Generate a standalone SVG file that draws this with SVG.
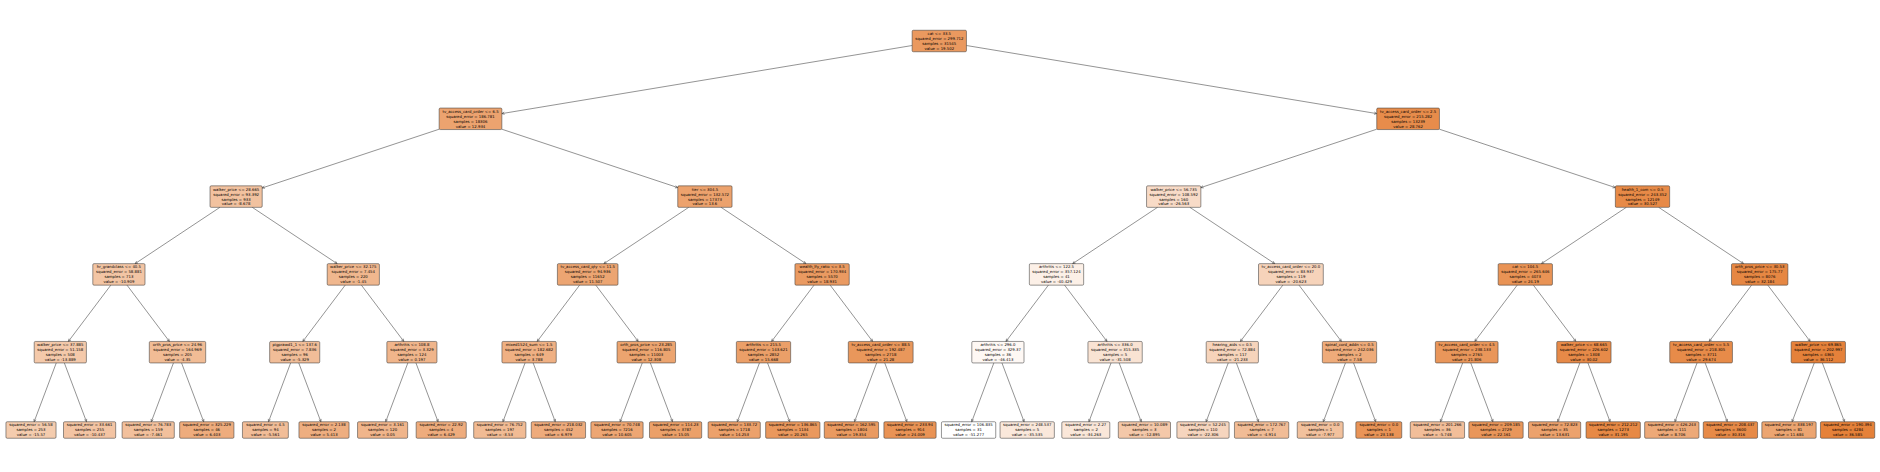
<svg xmlns="http://www.w3.org/2000/svg" width="1880" height="472" viewBox="0 0 1880 472">
<style>
.box{fill:#e58139;stroke:#3c3c3c;stroke-width:0.55}
.t{font-family:"DejaVu Sans","Liberation Sans",sans-serif;font-size:3.85px;fill:#000;text-anchor:middle}
#edges line{stroke:#3a3a3a;stroke-width:0.55;marker-end:url(#ah)}
</style>
<defs>
<marker id="ah" markerUnits="userSpaceOnUse" orient="auto" markerWidth="6" markerHeight="6" viewBox="-3 -3 6 6" refX="0" refY="0" overflow="visible"><path d="M-2.6,-1.2 L0,0 L-2.6,1.2" fill="none" stroke="#333" stroke-width="0.5"/></marker>
</defs>
<rect width="1880" height="472" fill="#fff"/>
<g id="edges">
<line x1="912.15" y1="45.51" x2="501.85" y2="113.6"/>
<line x1="966.45" y1="45.51" x2="1376.75" y2="113.6"/>
<line x1="439.15" y1="129.21" x2="262.2" y2="187.94"/>
<line x1="501.85" y1="129.21" x2="677.75" y2="187.59"/>
<line x1="1376.75" y1="129.21" x2="1200.85" y2="187.59"/>
<line x1="1439.45" y1="129.21" x2="1615.35" y2="187.59"/>
<line x1="219.91" y1="207.35" x2="135.09" y2="263.65"/>
<line x1="252.29" y1="207.35" x2="337.11" y2="263.65"/>
<line x1="688.71" y1="207.35" x2="603.89" y2="263.65"/>
<line x1="721.09" y1="207.35" x2="805.91" y2="263.65"/>
<line x1="1157.51" y1="207.35" x2="1072.69" y2="263.65"/>
<line x1="1189.89" y1="207.35" x2="1274.71" y2="263.65"/>
<line x1="1626.31" y1="207.35" x2="1541.49" y2="263.65"/>
<line x1="1658.69" y1="207.35" x2="1743.51" y2="263.65"/>
<line x1="110.8" y1="285.15" x2="68.4" y2="341.45"/>
<line x1="127" y1="285.15" x2="169.4" y2="341.45"/>
<line x1="345.2" y1="285.15" x2="302.8" y2="341.45"/>
<line x1="361.4" y1="285.15" x2="403.8" y2="341.45"/>
<line x1="579.6" y1="285.15" x2="537.2" y2="341.45"/>
<line x1="595.8" y1="285.15" x2="638.2" y2="341.45"/>
<line x1="814" y1="285.15" x2="771.6" y2="341.45"/>
<line x1="830.2" y1="285.15" x2="872.6" y2="341.45"/>
<line x1="1048.4" y1="285.15" x2="1006" y2="341.45"/>
<line x1="1064.6" y1="285.15" x2="1107" y2="341.45"/>
<line x1="1282.8" y1="285.15" x2="1240.4" y2="341.45"/>
<line x1="1299" y1="285.15" x2="1341.4" y2="341.45"/>
<line x1="1517.2" y1="285.15" x2="1474.8" y2="341.45"/>
<line x1="1533.4" y1="285.15" x2="1575.8" y2="341.45"/>
<line x1="1751.6" y1="285.15" x2="1709.2" y2="341.45"/>
<line x1="1767.8" y1="285.15" x2="1810.2" y2="341.45"/>
<line x1="56.25" y1="362.95" x2="34.11" y2="421.75"/>
<line x1="64.35" y1="362.95" x2="86.49" y2="421.75"/>
<line x1="173.45" y1="362.95" x2="151.31" y2="421.75"/>
<line x1="181.55" y1="362.95" x2="203.69" y2="421.75"/>
<line x1="290.65" y1="362.95" x2="268.51" y2="421.75"/>
<line x1="298.75" y1="362.95" x2="320.89" y2="421.75"/>
<line x1="407.85" y1="362.95" x2="385.71" y2="421.75"/>
<line x1="415.95" y1="362.95" x2="438.09" y2="421.75"/>
<line x1="525.05" y1="362.95" x2="502.91" y2="421.75"/>
<line x1="533.15" y1="362.95" x2="555.29" y2="421.75"/>
<line x1="642.25" y1="362.95" x2="620.11" y2="421.75"/>
<line x1="650.35" y1="362.95" x2="672.49" y2="421.75"/>
<line x1="759.45" y1="362.95" x2="737.31" y2="421.75"/>
<line x1="767.55" y1="362.95" x2="789.69" y2="421.75"/>
<line x1="876.65" y1="362.95" x2="854.51" y2="421.75"/>
<line x1="884.75" y1="362.95" x2="906.89" y2="421.75"/>
<line x1="993.85" y1="362.95" x2="971.71" y2="421.75"/>
<line x1="1001.95" y1="362.95" x2="1024.09" y2="421.75"/>
<line x1="1111.05" y1="362.95" x2="1088.91" y2="421.75"/>
<line x1="1119.15" y1="362.95" x2="1141.29" y2="421.75"/>
<line x1="1228.25" y1="362.95" x2="1206.11" y2="421.75"/>
<line x1="1236.35" y1="362.95" x2="1258.49" y2="421.75"/>
<line x1="1345.45" y1="362.95" x2="1323.31" y2="421.75"/>
<line x1="1353.55" y1="362.95" x2="1375.69" y2="421.75"/>
<line x1="1462.65" y1="362.95" x2="1440.51" y2="421.75"/>
<line x1="1470.75" y1="362.95" x2="1492.89" y2="421.75"/>
<line x1="1579.85" y1="362.95" x2="1557.71" y2="421.75"/>
<line x1="1587.95" y1="362.95" x2="1610.09" y2="421.75"/>
<line x1="1697.05" y1="362.95" x2="1674.91" y2="421.75"/>
<line x1="1705.15" y1="362.95" x2="1727.29" y2="421.75"/>
<line x1="1814.25" y1="362.95" x2="1792.11" y2="421.75"/>
<line x1="1822.35" y1="362.95" x2="1844.49" y2="421.75"/>
</g>
<g id="nodes">
<g id="n0" transform="translate(939.3,41)"><rect class="box" x="-27.15" y="-10.75" width="54.3" height="21.5" rx="1.2" fill-opacity="0.806"/><text class="t"><tspan x="0" y="-6.1">cat &lt;= 33.5</tspan><tspan x="0" y="-1.1">squared_error = 299.712</tspan><tspan x="0" y="3.9">samples = 31545</tspan><tspan x="0" y="8.9">value = 19.502</tspan></text></g>
<g id="n1_0" transform="translate(470.5,118.8)"><rect class="box" x="-31.35" y="-10.75" width="62.7" height="21.5" rx="1.2" fill-opacity="0.731"/><text class="t"><tspan x="0" y="-6.1">tv_access_card_order &lt;= 6.5</tspan><tspan x="0" y="-1.1">squared_error = 186.781</tspan><tspan x="0" y="3.9">samples = 18306</tspan><tspan x="0" y="8.9">value = 12.934</tspan></text></g>
<g id="n1_1" transform="translate(1408.1,118.8)"><rect class="box" x="-31.35" y="-10.75" width="62.7" height="21.5" rx="1.2" fill-opacity="0.911"/><text class="t"><tspan x="0" y="-6.1">tv_access_card_order &lt;= 2.5</tspan><tspan x="0" y="-1.1">squared_error = 215.282</tspan><tspan x="0" y="3.9">samples = 13239</tspan><tspan x="0" y="8.9">value = 28.762</tspan></text></g>
<g id="n2_0" transform="translate(236.1,196.6)"><rect class="box" x="-26.1" y="-10.75" width="52.2" height="21.5" rx="1.2" fill-opacity="0.485"/><text class="t"><tspan x="0" y="-6.1">walker_price &lt;= 28.665</tspan><tspan x="0" y="-1.1">squared_error = 93.392</tspan><tspan x="0" y="3.9">samples = 933</tspan><tspan x="0" y="8.9">value = -8.678</tspan></text></g>
<g id="n2_1" transform="translate(704.9,196.6)"><rect class="box" x="-27.15" y="-10.75" width="54.3" height="21.5" rx="1.2" fill-opacity="0.738"/><text class="t"><tspan x="0" y="-6.1">tier &lt;= 304.5</tspan><tspan x="0" y="-1.1">squared_error = 132.572</tspan><tspan x="0" y="3.9">samples = 17373</tspan><tspan x="0" y="8.9">value = 13.6</tspan></text></g>
<g id="n2_2" transform="translate(1173.7,196.6)"><rect class="box" x="-27.15" y="-10.75" width="54.3" height="21.5" rx="1.2" fill-opacity="0.281"/><text class="t"><tspan x="0" y="-6.1">walker_price &lt;= 56.735</tspan><tspan x="0" y="-1.1">squared_error = 108.592</tspan><tspan x="0" y="3.9">samples = 160</tspan><tspan x="0" y="8.9">value = -26.563</tspan></text></g>
<g id="n2_3" transform="translate(1642.5,196.6)"><rect class="box" x="-27.15" y="-10.75" width="54.3" height="21.5" rx="1.2" fill-opacity="0.931"/><text class="t"><tspan x="0" y="-6.1">health_1_com &lt;= 0.5</tspan><tspan x="0" y="-1.1">squared_error = 243.352</tspan><tspan x="0" y="3.9">samples = 12149</tspan><tspan x="0" y="8.9">value = 30.527</tspan></text></g>
<g id="n3_0" transform="translate(118.9,274.4)"><rect class="box" x="-26.1" y="-10.75" width="52.2" height="21.5" rx="1.2" fill-opacity="0.459"/><text class="t"><tspan x="0" y="-6.1">hr_grandclass &lt;= 40.5</tspan><tspan x="0" y="-1.1">squared_error = 58.881</tspan><tspan x="0" y="3.9">samples = 713</tspan><tspan x="0" y="8.9">value = -10.909</tspan></text></g>
<g id="n3_1" transform="translate(353.3,274.4)"><rect class="box" x="-26.1" y="-10.75" width="52.2" height="21.5" rx="1.2" fill-opacity="0.567"/><text class="t"><tspan x="0" y="-6.1">walker_price &lt;= 32.175</tspan><tspan x="0" y="-1.1">squared_error = 7.454</tspan><tspan x="0" y="3.9">samples = 220</tspan><tspan x="0" y="8.9">value = -1.45</tspan></text></g>
<g id="n3_2" transform="translate(587.7,274.4)"><rect class="box" x="-30.3" y="-10.75" width="60.6" height="21.5" rx="1.2" fill-opacity="0.715"/><text class="t"><tspan x="0" y="-6.1">tv_access_card_qty &lt;= 11.5</tspan><tspan x="0" y="-1.1">squared_error = 94.936</tspan><tspan x="0" y="3.9">samples = 11652</tspan><tspan x="0" y="8.9">value = 11.507</tspan></text></g>
<g id="n3_3" transform="translate(822.1,274.4)"><rect class="box" x="-27.15" y="-10.75" width="54.3" height="21.5" rx="1.2" fill-opacity="0.799"/><text class="t"><tspan x="0" y="-6.1">wealth_lfy_ratio &lt;= 3.5</tspan><tspan x="0" y="-1.1">squared_error = 170.934</tspan><tspan x="0" y="3.9">samples = 5570</tspan><tspan x="0" y="8.9">value = 18.931</tspan></text></g>
<g id="n3_4" transform="translate(1056.5,274.4)"><rect class="box" x="-27.15" y="-10.75" width="54.3" height="21.5" rx="1.2" fill-opacity="0.123"/><text class="t"><tspan x="0" y="-6.1">arthritis &lt;= 122.5</tspan><tspan x="0" y="-1.1">squared_error = 357.124</tspan><tspan x="0" y="3.9">samples = 41</tspan><tspan x="0" y="8.9">value = -40.429</tspan></text></g>
<g id="n3_5" transform="translate(1290.9,274.4)"><rect class="box" x="-32.4" y="-10.75" width="64.8" height="21.5" rx="1.2" fill-opacity="0.349"/><text class="t"><tspan x="0" y="-6.1">tv_access_card_order &lt;= 20.0</tspan><tspan x="0" y="-1.1">squared_error = 83.937</tspan><tspan x="0" y="3.9">samples = 119</tspan><tspan x="0" y="8.9">value = -20.623</tspan></text></g>
<g id="n3_6" transform="translate(1525.3,274.4)"><rect class="box" x="-27.15" y="-10.75" width="54.3" height="21.5" rx="1.2" fill-opacity="0.859"/><text class="t"><tspan x="0" y="-6.1">cat &lt;= 104.5</tspan><tspan x="0" y="-1.1">squared_error = 265.646</tspan><tspan x="0" y="3.9">samples = 4073</tspan><tspan x="0" y="8.9">value = 24.19</tspan></text></g>
<g id="n3_7" transform="translate(1759.7,274.4)"><rect class="box" x="-28.2" y="-10.75" width="56.4" height="21.5" rx="1.2" fill-opacity="0.95"/><text class="t"><tspan x="0" y="-6.1">orth_pros_price &lt;= 30.53</tspan><tspan x="0" y="-1.1">squared_error = 175.77</tspan><tspan x="0" y="3.9">samples = 8076</tspan><tspan x="0" y="8.9">value = 32.184</tspan></text></g>
<g id="n4_0" transform="translate(60.3,352.2)"><rect class="box" x="-26.1" y="-10.75" width="52.2" height="21.5" rx="1.2" fill-opacity="0.426"/><text class="t"><tspan x="0" y="-6.1">walker_price &lt;= 37.885</tspan><tspan x="0" y="-1.1">squared_error = 51.158</tspan><tspan x="0" y="3.9">samples = 508</tspan><tspan x="0" y="8.9">value = -13.889</tspan></text></g>
<g id="n4_1" transform="translate(177.5,352.2)"><rect class="box" x="-28.2" y="-10.75" width="56.4" height="21.5" rx="1.2" fill-opacity="0.534"/><text class="t"><tspan x="0" y="-6.1">orth_pros_price &lt;= 24.96</tspan><tspan x="0" y="-1.1">squared_error = 164.969</tspan><tspan x="0" y="3.9">samples = 205</tspan><tspan x="0" y="8.9">value = -4.35</tspan></text></g>
<g id="n4_2" transform="translate(294.7,352.2)"><rect class="box" x="-25.05" y="-10.75" width="50.1" height="21.5" rx="1.2" fill-opacity="0.523"/><text class="t"><tspan x="0" y="-6.1">pigprawd1_1 &lt;= 137.6</tspan><tspan x="0" y="-1.1">squared_error = 7.836</tspan><tspan x="0" y="3.9">samples = 96</tspan><tspan x="0" y="8.9">value = -5.329</tspan></text></g>
<g id="n4_3" transform="translate(411.9,352.2)"><rect class="box" x="-25.05" y="-10.75" width="50.1" height="21.5" rx="1.2" fill-opacity="0.586"/><text class="t"><tspan x="0" y="-6.1">arthritis &lt;= 108.8</tspan><tspan x="0" y="-1.1">squared_error = 3.329</tspan><tspan x="0" y="3.9">samples = 124</tspan><tspan x="0" y="8.9">value = 0.197</tspan></text></g>
<g id="n4_4" transform="translate(529.1,352.2)"><rect class="box" x="-27.15" y="-10.75" width="54.3" height="21.5" rx="1.2" fill-opacity="0.627"/><text class="t"><tspan x="0" y="-6.1">mixed1524_sum &lt;= 1.5</tspan><tspan x="0" y="-1.1">squared_error = 182.682</tspan><tspan x="0" y="3.9">samples = 649</tspan><tspan x="0" y="8.9">value = 3.788</tspan></text></g>
<g id="n4_5" transform="translate(646.3,352.2)"><rect class="box" x="-29.25" y="-10.75" width="58.5" height="21.5" rx="1.2" fill-opacity="0.724"/><text class="t"><tspan x="0" y="-6.1">orth_pros_price &lt;= 23.285</tspan><tspan x="0" y="-1.1">squared_error = 116.805</tspan><tspan x="0" y="3.9">samples = 11003</tspan><tspan x="0" y="8.9">value = 12.308</tspan></text></g>
<g id="n4_6" transform="translate(763.5,352.2)"><rect class="box" x="-27.15" y="-10.75" width="54.3" height="21.5" rx="1.2" fill-opacity="0.762"/><text class="t"><tspan x="0" y="-6.1">arthritis &lt;= 215.5</tspan><tspan x="0" y="-1.1">squared_error = 143.621</tspan><tspan x="0" y="3.9">samples = 2852</tspan><tspan x="0" y="8.9">value = 15.668</tspan></text></g>
<g id="n4_7" transform="translate(880.7,352.2)"><rect class="box" x="-32.4" y="-10.75" width="64.8" height="21.5" rx="1.2" fill-opacity="0.826"/><text class="t"><tspan x="0" y="-6.1">tv_access_card_order &lt;= 88.5</tspan><tspan x="0" y="-1.1">squared_error = 192.487</tspan><tspan x="0" y="3.9">samples = 2718</tspan><tspan x="0" y="8.9">value = 21.28</tspan></text></g>
<g id="n4_8" transform="translate(997.9,352.2)"><rect class="box" x="-26.1" y="-10.75" width="52.2" height="21.5" rx="1.2" fill-opacity="0.055"/><text class="t"><tspan x="0" y="-6.1">arthritis &lt;= 296.0</tspan><tspan x="0" y="-1.1">squared_error = 329.37</tspan><tspan x="0" y="3.9">samples = 36</tspan><tspan x="0" y="8.9">value = -46.413</tspan></text></g>
<g id="n4_9" transform="translate(1115.1,352.2)"><rect class="box" x="-27.15" y="-10.75" width="54.3" height="21.5" rx="1.2" fill-opacity="0.225"/><text class="t"><tspan x="0" y="-6.1">arthritis &lt;= 336.0</tspan><tspan x="0" y="-1.1">squared_error = 315.335</tspan><tspan x="0" y="3.9">samples = 5</tspan><tspan x="0" y="8.9">value = -31.508</tspan></text></g>
<g id="n4_10" transform="translate(1232.3,352.2)"><rect class="box" x="-26.1" y="-10.75" width="52.2" height="21.5" rx="1.2" fill-opacity="0.342"/><text class="t"><tspan x="0" y="-6.1">hearing_aids &lt;= 0.5</tspan><tspan x="0" y="-1.1">squared_error = 72.884</tspan><tspan x="0" y="3.9">samples = 117</tspan><tspan x="0" y="8.9">value = -21.233</tspan></text></g>
<g id="n4_11" transform="translate(1349.5,352.2)"><rect class="box" x="-27.15" y="-10.75" width="54.3" height="21.5" rx="1.2" fill-opacity="0.67"/><text class="t"><tspan x="0" y="-6.1">spinal_cord_addn &lt;= 0.5</tspan><tspan x="0" y="-1.1">squared_error = 242.036</tspan><tspan x="0" y="3.9">samples = 2</tspan><tspan x="0" y="8.9">value = 7.58</tspan></text></g>
<g id="n4_12" transform="translate(1466.7,352.2)"><rect class="box" x="-31.35" y="-10.75" width="62.7" height="21.5" rx="1.2" fill-opacity="0.832"/><text class="t"><tspan x="0" y="-6.1">tv_access_card_order &lt;= 4.5</tspan><tspan x="0" y="-1.1">squared_error = 238.133</tspan><tspan x="0" y="3.9">samples = 2765</tspan><tspan x="0" y="8.9">value = 21.806</tspan></text></g>
<g id="n4_13" transform="translate(1583.9,352.2)"><rect class="box" x="-27.15" y="-10.75" width="54.3" height="21.5" rx="1.2" fill-opacity="0.925"/><text class="t"><tspan x="0" y="-6.1">walker_price &lt;= 68.665</tspan><tspan x="0" y="-1.1">squared_error = 226.602</tspan><tspan x="0" y="3.9">samples = 1308</tspan><tspan x="0" y="8.9">value = 30.02</tspan></text></g>
<g id="n4_14" transform="translate(1701.1,352.2)"><rect class="box" x="-31.35" y="-10.75" width="62.7" height="21.5" rx="1.2" fill-opacity="0.921"/><text class="t"><tspan x="0" y="-6.1">tv_access_card_order &lt;= 5.5</tspan><tspan x="0" y="-1.1">squared_error = 218.305</tspan><tspan x="0" y="3.9">samples = 3711</tspan><tspan x="0" y="8.9">value = 29.674</tspan></text></g>
<g id="n4_15" transform="translate(1818.3,352.2)"><rect class="box" x="-27.15" y="-10.75" width="54.3" height="21.5" rx="1.2" fill-opacity="0.995"/><text class="t"><tspan x="0" y="-6.1">walker_price &lt;= 69.865</tspan><tspan x="0" y="-1.1">squared_error = 202.997</tspan><tspan x="0" y="3.9">samples = 4365</tspan><tspan x="0" y="8.9">value = 36.112</tspan></text></g>
<g id="n5_0" transform="translate(31,430)"><rect class="box" x="-25.05" y="-8.25" width="50.1" height="16.5" rx="1.2" fill-opacity="0.406"/><text class="t"><tspan x="0" y="-3.6">squared_error = 56.58</tspan><tspan x="0" y="1.4">samples = 253</tspan><tspan x="0" y="6.4">value = -15.57</tspan></text></g>
<g id="n5_1" transform="translate(89.6,430)"><rect class="box" x="-26.1" y="-8.25" width="52.2" height="16.5" rx="1.2" fill-opacity="0.465"/><text class="t"><tspan x="0" y="-3.6">squared_error = 33.661</tspan><tspan x="0" y="1.4">samples = 255</tspan><tspan x="0" y="6.4">value = -10.437</tspan></text></g>
<g id="n5_2" transform="translate(148.2,430)"><rect class="box" x="-26.1" y="-8.25" width="52.2" height="16.5" rx="1.2" fill-opacity="0.499"/><text class="t"><tspan x="0" y="-3.6">squared_error = 76.783</tspan><tspan x="0" y="1.4">samples = 159</tspan><tspan x="0" y="6.4">value = -7.461</tspan></text></g>
<g id="n5_3" transform="translate(206.8,430)"><rect class="box" x="-27.15" y="-8.25" width="54.3" height="16.5" rx="1.2" fill-opacity="0.656"/><text class="t"><tspan x="0" y="-3.6">squared_error = 325.229</tspan><tspan x="0" y="1.4">samples = 46</tspan><tspan x="0" y="6.4">value = 6.403</tspan></text></g>
<g id="n5_4" transform="translate(265.4,430)"><rect class="box" x="-22.95" y="-8.25" width="45.9" height="16.5" rx="1.2" fill-opacity="0.52"/><text class="t"><tspan x="0" y="-3.6">squared_error = 4.5</tspan><tspan x="0" y="1.4">samples = 94</tspan><tspan x="0" y="6.4">value = -5.561</tspan></text></g>
<g id="n5_5" transform="translate(324,430)"><rect class="box" x="-25.05" y="-8.25" width="50.1" height="16.5" rx="1.2" fill-opacity="0.645"/><text class="t"><tspan x="0" y="-3.6">squared_error = 2.138</tspan><tspan x="0" y="1.4">samples = 2</tspan><tspan x="0" y="6.4">value = 5.413</tspan></text></g>
<g id="n5_6" transform="translate(382.6,430)"><rect class="box" x="-25.05" y="-8.25" width="50.1" height="16.5" rx="1.2" fill-opacity="0.584"/><text class="t"><tspan x="0" y="-3.6">squared_error = 3.161</tspan><tspan x="0" y="1.4">samples = 120</tspan><tspan x="0" y="6.4">value = 0.05</tspan></text></g>
<g id="n5_7" transform="translate(441.2,430)"><rect class="box" x="-25.05" y="-8.25" width="50.1" height="16.5" rx="1.2" fill-opacity="0.657"/><text class="t"><tspan x="0" y="-3.6">squared_error = 22.92</tspan><tspan x="0" y="1.4">samples = 4</tspan><tspan x="0" y="6.4">value = 6.429</tspan></text></g>
<g id="n5_8" transform="translate(499.8,430)"><rect class="box" x="-26.1" y="-8.25" width="52.2" height="16.5" rx="1.2" fill-opacity="0.543"/><text class="t"><tspan x="0" y="-3.6">squared_error = 76.752</tspan><tspan x="0" y="1.4">samples = 197</tspan><tspan x="0" y="6.4">value = -3.53</tspan></text></g>
<g id="n5_9" transform="translate(558.4,430)"><rect class="box" x="-27.15" y="-8.25" width="54.3" height="16.5" rx="1.2" fill-opacity="0.663"/><text class="t"><tspan x="0" y="-3.6">squared_error = 218.032</tspan><tspan x="0" y="1.4">samples = 452</tspan><tspan x="0" y="6.4">value = 6.979</tspan></text></g>
<g id="n5_10" transform="translate(617,430)"><rect class="box" x="-26.1" y="-8.25" width="52.2" height="16.5" rx="1.2" fill-opacity="0.704"/><text class="t"><tspan x="0" y="-3.6">squared_error = 70.748</tspan><tspan x="0" y="1.4">samples = 7216</tspan><tspan x="0" y="6.4">value = 10.605</tspan></text></g>
<g id="n5_11" transform="translate(675.6,430)"><rect class="box" x="-26.1" y="-8.25" width="52.2" height="16.5" rx="1.2" fill-opacity="0.755"/><text class="t"><tspan x="0" y="-3.6">squared_error = 114.23</tspan><tspan x="0" y="1.4">samples = 3787</tspan><tspan x="0" y="6.4">value = 15.05</tspan></text></g>
<g id="n5_12" transform="translate(734.2,430)"><rect class="box" x="-26.1" y="-8.25" width="52.2" height="16.5" rx="1.2" fill-opacity="0.746"/><text class="t"><tspan x="0" y="-3.6">squared_error = 133.72</tspan><tspan x="0" y="1.4">samples = 1718</tspan><tspan x="0" y="6.4">value = 14.253</tspan></text></g>
<g id="n5_13" transform="translate(792.8,430)"><rect class="box" x="-27.15" y="-8.25" width="54.3" height="16.5" rx="1.2" fill-opacity="0.814"/><text class="t"><tspan x="0" y="-3.6">squared_error = 136.865</tspan><tspan x="0" y="1.4">samples = 1134</tspan><tspan x="0" y="6.4">value = 20.265</tspan></text></g>
<g id="n5_14" transform="translate(851.4,430)"><rect class="box" x="-27.15" y="-8.25" width="54.3" height="16.5" rx="1.2" fill-opacity="0.804"/><text class="t"><tspan x="0" y="-3.6">squared_error = 162.595</tspan><tspan x="0" y="1.4">samples = 1804</tspan><tspan x="0" y="6.4">value = 19.354</tspan></text></g>
<g id="n5_15" transform="translate(910,430)"><rect class="box" x="-26.1" y="-8.25" width="52.2" height="16.5" rx="1.2" fill-opacity="0.857"/><text class="t"><tspan x="0" y="-3.6">squared_error = 233.94</tspan><tspan x="0" y="1.4">samples = 914</tspan><tspan x="0" y="6.4">value = 24.009</tspan></text></g>
<g id="n5_16" transform="translate(968.6,430)"><rect class="box" x="-27.15" y="-8.25" width="54.3" height="16.5" rx="1.2" fill-opacity="0"/><text class="t"><tspan x="0" y="-3.6">squared_error = 106.835</tspan><tspan x="0" y="1.4">samples = 31</tspan><tspan x="0" y="6.4">value = -51.277</tspan></text></g>
<g id="n5_17" transform="translate(1027.2,430)"><rect class="box" x="-27.15" y="-8.25" width="54.3" height="16.5" rx="1.2" fill-opacity="0.179"/><text class="t"><tspan x="0" y="-3.6">squared_error = 248.537</tspan><tspan x="0" y="1.4">samples = 5</tspan><tspan x="0" y="6.4">value = -35.535</tspan></text></g>
<g id="n5_18" transform="translate(1085.8,430)"><rect class="box" x="-24" y="-8.25" width="48" height="16.5" rx="1.2" fill-opacity="0.194"/><text class="t"><tspan x="0" y="-3.6">squared_error = 2.27</tspan><tspan x="0" y="1.4">samples = 2</tspan><tspan x="0" y="6.4">value = -34.263</tspan></text></g>
<g id="n5_19" transform="translate(1144.4,430)"><rect class="box" x="-26.1" y="-8.25" width="52.2" height="16.5" rx="1.2" fill-opacity="0.437"/><text class="t"><tspan x="0" y="-3.6">squared_error = 10.089</tspan><tspan x="0" y="1.4">samples = 3</tspan><tspan x="0" y="6.4">value = -12.895</tspan></text></g>
<g id="n5_20" transform="translate(1203,430)"><rect class="box" x="-26.1" y="-8.25" width="52.2" height="16.5" rx="1.2" fill-opacity="0.33"/><text class="t"><tspan x="0" y="-3.6">squared_error = 52.245</tspan><tspan x="0" y="1.4">samples = 110</tspan><tspan x="0" y="6.4">value = -22.306</tspan></text></g>
<g id="n5_21" transform="translate(1261.6,430)"><rect class="box" x="-27.15" y="-8.25" width="54.3" height="16.5" rx="1.2" fill-opacity="0.528"/><text class="t"><tspan x="0" y="-3.6">squared_error = 172.767</tspan><tspan x="0" y="1.4">samples = 7</tspan><tspan x="0" y="6.4">value = -4.914</tspan></text></g>
<g id="n5_22" transform="translate(1320.2,430)"><rect class="box" x="-22.95" y="-8.25" width="45.9" height="16.5" rx="1.2" fill-opacity="0.493"/><text class="t"><tspan x="0" y="-3.6">squared_error = 0.0</tspan><tspan x="0" y="1.4">samples = 1</tspan><tspan x="0" y="6.4">value = -7.977</tspan></text></g>
<g id="n5_23" transform="translate(1378.8,430)"><rect class="box" x="-22.95" y="-8.25" width="45.9" height="16.5" rx="1.2" fill-opacity="0.847"/><text class="t"><tspan x="0" y="-3.6">squared_error = 0.0</tspan><tspan x="0" y="1.4">samples = 1</tspan><tspan x="0" y="6.4">value = 23.138</tspan></text></g>
<g id="n5_24" transform="translate(1437.4,430)"><rect class="box" x="-27.15" y="-8.25" width="54.3" height="16.5" rx="1.2" fill-opacity="0.518"/><text class="t"><tspan x="0" y="-3.6">squared_error = 201.266</tspan><tspan x="0" y="1.4">samples = 36</tspan><tspan x="0" y="6.4">value = -5.748</tspan></text></g>
<g id="n5_25" transform="translate(1496,430)"><rect class="box" x="-27.15" y="-8.25" width="54.3" height="16.5" rx="1.2" fill-opacity="0.836"/><text class="t"><tspan x="0" y="-3.6">squared_error = 209.185</tspan><tspan x="0" y="1.4">samples = 2729</tspan><tspan x="0" y="6.4">value = 22.161</tspan></text></g>
<g id="n5_26" transform="translate(1554.6,430)"><rect class="box" x="-26.1" y="-8.25" width="52.2" height="16.5" rx="1.2" fill-opacity="0.739"/><text class="t"><tspan x="0" y="-3.6">squared_error = 72.823</tspan><tspan x="0" y="1.4">samples = 35</tspan><tspan x="0" y="6.4">value = 13.631</tspan></text></g>
<g id="n5_27" transform="translate(1613.2,430)"><rect class="box" x="-27.15" y="-8.25" width="54.3" height="16.5" rx="1.2" fill-opacity="0.939"/><text class="t"><tspan x="0" y="-3.6">squared_error = 212.212</tspan><tspan x="0" y="1.4">samples = 1273</tspan><tspan x="0" y="6.4">value = 31.195</tspan></text></g>
<g id="n5_28" transform="translate(1671.8,430)"><rect class="box" x="-27.15" y="-8.25" width="54.3" height="16.5" rx="1.2" fill-opacity="0.683"/><text class="t"><tspan x="0" y="-3.6">squared_error = 426.243</tspan><tspan x="0" y="1.4">samples = 111</tspan><tspan x="0" y="6.4">value = 8.706</tspan></text></g>
<g id="n5_29" transform="translate(1730.4,430)"><rect class="box" x="-27.15" y="-8.25" width="54.3" height="16.5" rx="1.2" fill-opacity="0.929"/><text class="t"><tspan x="0" y="-3.6">squared_error = 208.437</tspan><tspan x="0" y="1.4">samples = 3600</tspan><tspan x="0" y="6.4">value = 30.316</tspan></text></g>
<g id="n5_30" transform="translate(1789,430)"><rect class="box" x="-27.15" y="-8.25" width="54.3" height="16.5" rx="1.2" fill-opacity="0.717"/><text class="t"><tspan x="0" y="-3.6">squared_error = 338.197</tspan><tspan x="0" y="1.4">samples = 81</tspan><tspan x="0" y="6.4">value = 11.684</tspan></text></g>
<g id="n5_31" transform="translate(1847.6,430)"><rect class="box" x="-27.15" y="-8.25" width="54.3" height="16.5" rx="1.2" fill-opacity="1"/><text class="t"><tspan x="0" y="-3.6">squared_error = 190.394</tspan><tspan x="0" y="1.4">samples = 4284</tspan><tspan x="0" y="6.4">value = 36.585</tspan></text></g>
</g>
</svg>
